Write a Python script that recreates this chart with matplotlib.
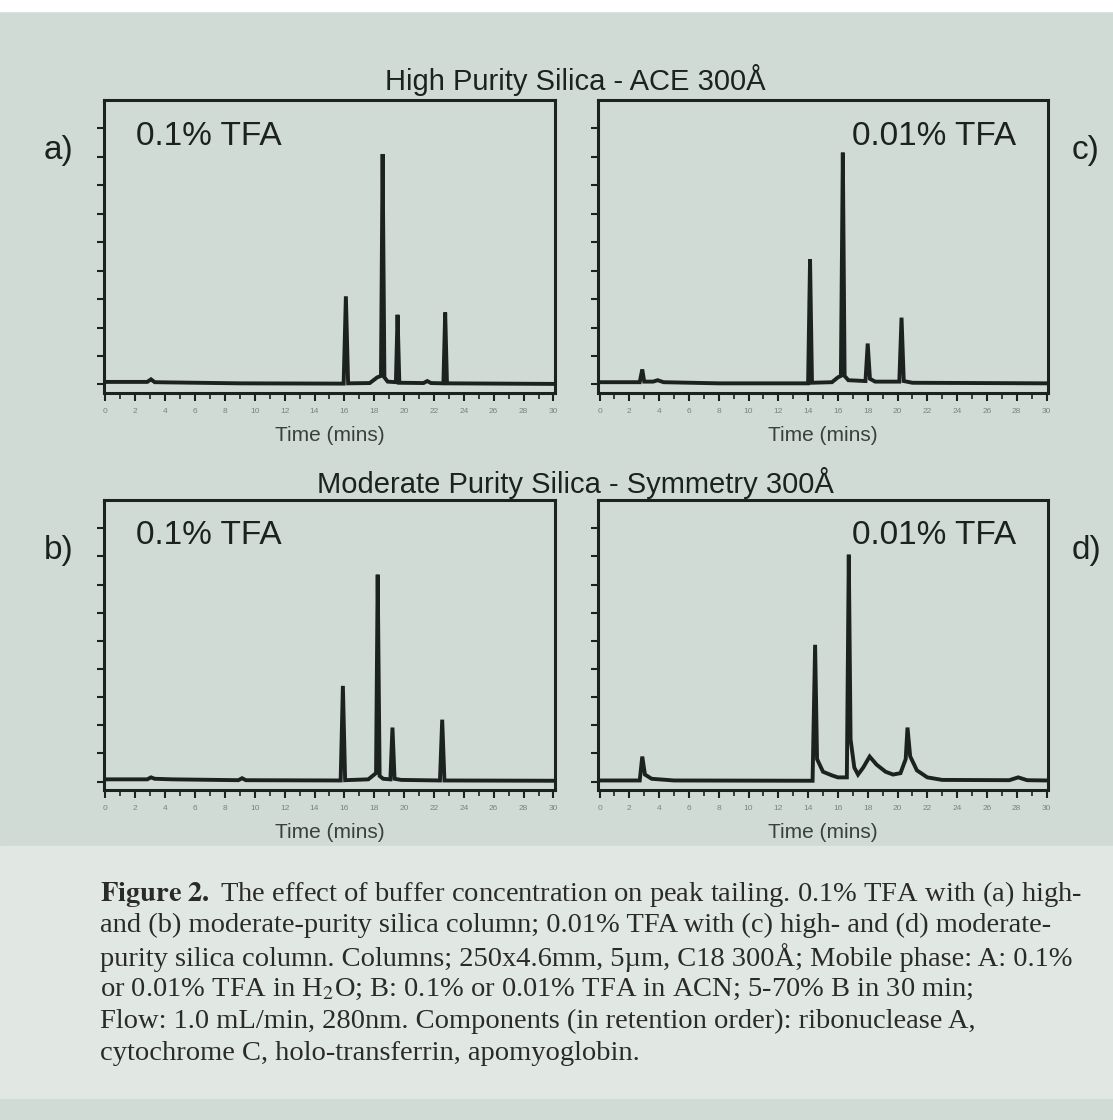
import matplotlib.pyplot as plt
import numpy as np

plt.rcParams['font.family'] = ['Liberation Sans', 'DejaVu Sans']
plt.rcParams['mathtext.fontset'] = 'stix'

# chromatogram traces (time in min, signal in a.u.)
time_a = [0, 2.8, 3.05, 3.3, 9, 15.95, 16.1, 16.25, 17.7, 18.2, 18.45, 18.56, 18.68, 18.9,
          19.45, 19.56, 19.68, 21.3, 21.55, 21.8, 22.63, 22.75, 22.87, 30]
sig_a = [0.9, 0.9, 1.8, 0.8, 0.4, 0.3, 31, 0.4, 0.5, 2.5, 3, 81, 2.5, 1.0,
         0.8, 24.5, 0.6, 0.5, 1.2, 0.5, 0.4, 25.3, 0.4, 0.2]

time_c = [0, 2.7, 2.87, 3.0, 3.6, 3.9, 4.3, 8, 14.0, 14.13, 14.26, 15.6, 16.0, 16.2, 16.33,
          16.45, 16.7, 17.85, 18.0, 18.15, 18.5, 20.12, 20.27, 20.42, 21, 30]
sig_c = [0.8, 0.8, 5.3, 1.0, 1.0, 1.5, 0.8, 0.4, 0.4, 44, 0.6, 0.8, 2.5, 3, 81.5,
         3, 1.5, 1.2, 14.4, 2, 1.0, 1.0, 23.5, 1.2, 0.6, 0.4]

time_b = [0, 2.8, 3.05, 3.3, 4.5, 8.9, 9.15, 9.4, 15.75, 15.9, 16.05, 17.6, 18.0, 18.12, 18.23,
          18.36, 18.6, 19.08, 19.22, 19.36, 19.8, 22.4, 22.55, 22.7, 30]
sig_b = [0.8, 0.8, 1.5, 1.0, 0.8, 0.5, 1.2, 0.5, 0.4, 34, 0.5, 0.8, 2.5, 3, 73.5,
         2, 1.0, 0.8, 19.2, 1.0, 0.6, 0.4, 22, 0.4, 0.3]

time_d = [0, 2.7, 2.87, 3.05, 3.5, 5, 14.3, 14.47, 14.6, 15.0, 15.6, 16.0, 16.6, 16.73, 16.85,
          17.1, 17.35, 17.7, 18.13, 18.6, 19.2, 19.7, 20.2, 20.55, 20.67, 20.85, 21.3, 22.0,
          23, 27.5, 28.1, 28.7, 30]
sig_d = [0.4, 0.4, 8.9, 2.5, 1.0, 0.4, 0.3, 48.6, 8, 3.5, 2.2, 1.5, 1.5, 80.6, 15,
         5, 2.5, 5, 8.9, 6, 3.5, 2.5, 3, 8, 19.2, 9, 4, 1.5,
         0.6, 0.5, 1.5, 0.5, 0.4]

tick_times = list(range(0, 31, 2))

caption = [
    r"$\mathbf{Figure\ 2.}$ The effect of buffer concentration on peak tailing. 0.1% TFA with (a) high-",
    "and (b) moderate-purity silica column; 0.01% TFA with (c) high- and (d) moderate-",
    "purity silica column. Columns; 250x4.6mm, 5\u00b5m, C18 300\u00c5; Mobile phase: A: 0.1%",
    r"or 0.01% TFA in H$_2$O; B: 0.1% or 0.01% TFA in ACN; 5-70% B in 30 min;",
    "Flow: 1.0 mL/min, 280nm. Components (in retention order): ribonuclease A,",
    "cytochrome C, holo-transferrin, apomyoglobin.",
]

bg = '#d0dbd6'
ink = '#1c2220'

fig = plt.figure(figsize=(11.13, 11.20), dpi=100)
fig.patch.set_facecolor(bg)
# white strip on top, lighter caption area
fig.patches.append(plt.Rectangle((0, 0.99), 1, 0.01, transform=fig.transFigure, color='white', zorder=0))
fig.patches.append(plt.Rectangle((0, 0.02), 1, 0.225, transform=fig.transFigure, color='#e1e8e4', zorder=0))

panels = [
    ('a)', '0.1% TFA', time_a, sig_a, [0.0934, 0.6491, 0.4052, 0.2616], 'left'),
    ('c)', '0.01% TFA', time_c, sig_c, [0.5373, 0.6491, 0.4043, 0.2616], 'right'),
    ('b)', '0.1% TFA', time_b, sig_b, [0.0934, 0.2946, 0.4052, 0.2589], 'left'),
    ('d)', '0.01% TFA', time_d, sig_d, [0.5373, 0.2946, 0.4043, 0.2589], 'right'),
]

for tag, label, t, s, pos, side in panels:
    ax = fig.add_axes(pos)
    ax.set_facecolor(bg)
    ax.plot(t, s, color=ink, lw=2.8, solid_joinstyle='miter')
    ax.set_xlim(-0.1, 30.1)
    ax.set_ylim(-3, 100)
    ax.set_xticks(tick_times)
    ax.set_xticklabels([str(v) for v in tick_times], fontsize=6, color='#7a8480')
    ax.set_xticks(np.arange(1, 30, 2), minor=True)
    ax.set_yticks(np.arange(0, 100, 10))
    ax.set_yticklabels([])
    ax.tick_params(axis='x', which='major', length=6, width=1.5, color=ink, pad=5)
    ax.tick_params(axis='x', which='minor', length=4, width=1.2, color=ink)
    ax.tick_params(axis='y', length=5, width=1.5, color=ink)
    for sp in ax.spines.values():
        sp.set_linewidth(2.2)
        sp.set_color(ink)
    ax.set_xlabel('Time (mins)', fontsize=15, color='#3a403e', labelpad=8)
    if side == 'left':
        ax.text(0.07, 0.93, label, transform=ax.transAxes, fontsize=24, color=ink, va='top', ha='left')
        fig.text(pos[0] - 0.054, pos[1] + pos[3] - 0.045, tag, fontsize=24, color=ink, va='center')
    else:
        ax.text(0.93, 0.93, label, transform=ax.transAxes, fontsize=24, color=ink, va='top', ha='right')
        fig.text(pos[0] + pos[2] + 0.021, pos[1] + pos[3] - 0.045, tag, fontsize=24, color=ink, va='center')

fig.text(0.517, 0.929, 'High Purity Silica - ACE 300\u00c5', fontsize=21, color=ink, ha='center', va='center')
fig.text(0.517, 0.569, 'Moderate Purity Silica - Symmetry 300\u00c5', fontsize=21, color=ink, ha='center', va='center')

for i, line in enumerate(caption):
    fig.text(0.09, 0.202 - i * 0.0285, line, fontsize=20.5, color='#2a2a2a',
             family='Liberation Serif', ha='left', va='center')

plt.savefig('out.png', dpi=100, facecolor=fig.get_facecolor())
